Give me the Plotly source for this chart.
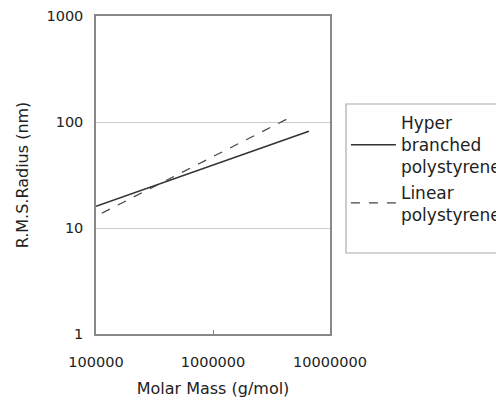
import plotly.graph_objects as go

hb_mass = [100000, 6600000]
hb_radius = [16, 82]
lin_mass = [112000, 4600000]
lin_radius = [13.8, 111]

x_tickvals = [100000, 1000000, 10000000]
x_ticktext = ["100000", "1000000", "10000000"]
y_tickvals = [1, 10, 100, 1000]
y_ticktext = ["1", "10", "100", "1000"]

FONT = "DejaVu Sans, Liberation Sans, sans-serif"

fig = go.Figure()
fig.add_trace(go.Scatter(x=hb_mass, y=hb_radius, mode="lines",
                         name="Hyper<br>branched<br>polystyrene",
                         line=dict(color="#333333", width=1.6)))
fig.add_trace(go.Scatter(x=lin_mass, y=lin_radius, mode="lines",
                         name="Linear<br>polystyrene",
                         line=dict(color="#444444", width=1.2, dash="dash")))

# legend frame (extends past the right edge like the original)
fig.add_shape(type="rect", xref="paper", yref="paper",
              x0=1.0684, x1=1.75, y0=0.2547, y1=0.7233,
              line=dict(color="#aaaaaa", width=1.2), fillcolor="rgba(0,0,0,0)")

fig.update_layout(
    width=496, height=403,
    margin=dict(l=96, r=166, t=16, b=69, autoexpand=False),
    paper_bgcolor="white", plot_bgcolor="white",
    font=dict(family=FONT, size=15, color="#222222"),
    showlegend=True,
    legend=dict(x=1.068, xanchor="left", y=0.72, yanchor="top",
                bgcolor="rgba(0,0,0,0)", borderwidth=0,
                font=dict(size=17), itemwidth=45,
                tracegroupgap=4),
    xaxis=dict(type="log", range=[5, 7],
               tickvals=x_tickvals, ticktext=x_ticktext,
               tickfont=dict(size=14.5),
               showgrid=False, showline=True, linecolor="#888888", linewidth=1.5,
               mirror=True, ticks="inside", ticklen=4, tickcolor="#888888",
               ticklabelstandoff=14,
               title=dict(text="Molar Mass (g/mol)", standoff=14, font=dict(size=16)),
               zeroline=False),
    yaxis=dict(type="log", range=[0, 3],
               tickvals=y_tickvals, ticktext=y_ticktext,
               tickfont=dict(size=14.5),
               showgrid=True, gridcolor="#cccccc", gridwidth=1,
               showline=True, linecolor="#888888", linewidth=1.5,
               mirror=True, ticks="", ticklabelstandoff=8,
               title=dict(text="R.M.S.Radius (nm)", standoff=14, font=dict(size=16)),
               zeroline=False),
)

fig.write_html("out.html")
